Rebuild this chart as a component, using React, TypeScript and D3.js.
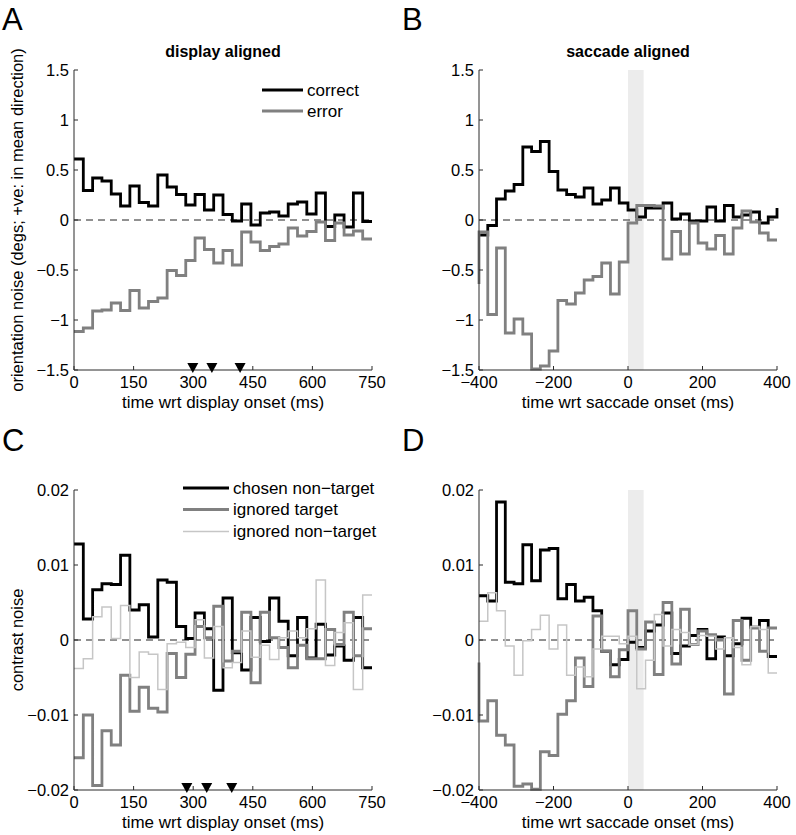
import React from 'react';
import * as d3 from 'd3';

// ---------- data ----------
const displayTicks = [0, 150, 300, 450, 600, 750];
const saccadeTicks = [-400, -200, 0, 200, 400];
const orientTicks = [-1.5, -1, -0.5, 0, 0.5, 1, 1.5];
const contrastTicks = [-0.02, -0.01, 0, 0.01, 0.02];

const markersA = [299, 347, 418];
const markersC = [284, 334, 397];

const correctDisplay = [0.61, 0.295, 0.42, 0.39, 0.26, 0.14, 0.34, 0.175, 0.14, 0.45, 0.33, 0.255, 0.15, 0.255, 0.1, 0.25, 0.055, -0.01, 0.16, -0.05, 0.07, 0.08, 0.04, 0.16, 0.18, 0.06, 0.27, -0.065, 0.05, -0.07, 0.27, -0.015];
const errorDisplay = [-1.115, -1.08, -0.91, -0.9, -0.83, -0.905, -0.705, -0.88, -0.815, -0.78, -0.505, -0.555, -0.405, -0.18, -0.295, -0.43, -0.305, -0.45, -0.12, -0.22, -0.305, -0.265, -0.24, -0.08, -0.16, -0.115, -0.02, -0.205, -0.03, -0.15, -0.11, -0.19];

const correctSaccade = [-0.15, -0.055, 0.21, 0.29, 0.355, 0.73, 0.685, 0.785, 0.485, 0.3, 0.255, 0.23, 0.32, 0.16, 0.2, 0.32, 0.17, 0.1, 0.03, 0.12, 0.12, 0.17, 0.01, 0.06, -0.01, -0.01, 0.13, -0.01, 0.145, 0.03, 0.05, 0.08, -0.03, 0.03];
const errorSaccade = [-0.12, -0.945, -0.28, -1.13, -0.99, -1.14, -1.49, -1.46, -1.31, -0.805, -0.84, -0.73, -0.6, -0.565, -0.43, -0.74, -0.42, -0.03, 0.145, 0.145, 0.14, -0.39, -0.115, -0.34, -0.03, -0.23, -0.29, -0.155, -0.34, -0.08, 0.09, -0.02, -0.13, -0.2];

const chosenDisplay = [0.0128, 0.0028, 0.0067, 0.0075, 0.0074, 0.0113, 0.004, 0.0047, 0.0004, 0.008, 0.0077, 0.0018, 0.0002, 0.0036, 0.0015, -0.0067, 0.0056, -0.0017, -0.004, 0.003, -0.0002, 0.0056, 0.0025, -0.0021, 0.003, -0.0024, 0.0021, -0.002, -0.0008, -0.0027, 0.003, -0.0037];
const ignTargetDisplay = [-0.0157, -0.01, -0.0194, -0.0121, -0.014, -0.0047, -0.0095, -0.0063, -0.0091, -0.0096, -0.0018, -0.005, -0.0019, 0.0018, 0.0003, 0.0045, -0.0028, -0.0015, 0.0037, -0.0057, 0.0037, 0.0003, -0.001, -0.0037, -0.0007, -0.0025, -0.0025, 0.0014, -0.0006, 0.0037, -0.0021, 0.0015];
const ignNonDisplay = [-0.0038, -0.0025, 0.0031, 0.0044, 0.0002, 0.0046, -0.005, -0.0016, -0.0019, -0.0066, -0.0005, -0.0003, -0.001, 0.0027, -0.0024, 0.0018, -0.0037, -0.003, 0.0012, -0.0023, -0.0007, -0.0026, 0.0003, 0.0012, 0.0003, 0.0015, 0.008, -0.0034, 0.001, 0.0023, -0.0066, 0.006];

const chosenSaccade = [0.0059, 0.0052, 0.0184, 0.0077, 0.0075, 0.0127, 0.0079, 0.012, 0.0122, 0.0055, 0.0074, 0.0052, 0.0057, 0.0039, -0.0015, -0.0033, -0.0026, -0.0003, -0.001, 0.0012, 0.002, 0.0036, -0.0018, -0.0008, 0.0006, 0.0014, -0.0025, 0.0004, -0.0021, -0.0005, 0.0029, 0.0017, 0.0026, -0.0022];
const ignTargetSaccade = [-0.0108, -0.0081, -0.0127, -0.014, -0.0195, -0.0192, -0.0199, -0.0149, -0.0154, -0.0099, -0.0081, -0.0024, -0.0062, 0.0032, -0.0015, -0.0049, -0.0013, 0.0039, -0.0012, 0.0024, -0.0046, 0.005, -0.0032, 0.0041, -0.0006, 0.0012, 0.0007, 0.0, -0.0072, 0.0026, -0.0027, 0.0016, -0.0015, 0.0016];
const ignNonSaccade = [0.0025, 0.0063, 0.0039, -0.0008, -0.0047, -0.0001, 0.0014, 0.0033, -0.0012, 0.002, -0.0047, -0.0036, -0.0049, -0.0012, 0.0005, 0.0005, -0.0005, 0.0005, -0.0065, -0.0027, 0.0034, -0.0008, 0.0014, 0.001, -0.0006, 0.0006, 0.0005, -0.0012, 0.0003, -0.001, -0.0033, 0.0018, 0.0014, -0.0044];

const saccadeBand = [0, 42];

// ---------- styles ----------
const FONT = 'Liberation Sans, Arial, Helvetica, sans-serif';
const BLACK = '#000000';
const GRAY = '#808080';
const LIGHT = '#c6c6c6';
const AX = '#2a2a2a';
const LW = 2.8;

type Series = { values: number[]; color: string; width: number; lead?: number; tail?: number };

const fmt = (d: number) => String(d).replace('-', '\u2212');

function Panel(props: {
  xr: [number, number];
  yr: [number, number];
  xDomain: [number, number];
  yDomain: [number, number];
  xTicks: number[];
  yTicks: number[];
  series: Series[];
  band?: number[];
  markers?: number[];
}) {
  const { xr, yr, xDomain, yDomain, xTicks, yTicks, series, band, markers } = props;
  const x = d3.scaleLinear().domain(xDomain).range(xr);
  const y = d3.scaleLinear().domain(yDomain).range(yr);
  const [xl, xh] = xr;
  const [yb, yt] = yr;
  return (
    <g>
      {band && (
        <rect x={x(band[0])} y={yt} width={x(band[1]) - x(band[0])} height={yb - yt} fill="#ececec" />
      )}
      <line x1={xl} x2={xh} y1={y(0)} y2={y(0)} stroke="#222" strokeWidth={1} strokeDasharray="7 5" />
      {series.map((s, i) => {
        const n = s.values.length;
        const edges = d3.range(n + 1).map((k) => xDomain[0] + (k * (xDomain[1] - xDomain[0])) / n);
        const pts: [number, number][] = [];
        if (s.lead !== undefined) pts.push([edges[0], s.lead]);
        s.values.forEach((v, k) => pts.push([edges[k], v]));
        pts.push([edges[n], s.values[n - 1]]);
        if (s.tail !== undefined) pts.push([edges[n], s.tail]);
        const line = d3
          .line<[number, number]>()
          .x((d) => x(d[0]))
          .y((d) => y(d[1]))
          .curve(d3.curveStepAfter);
        return (
          <path key={i} d={line(pts) || ''} fill="none" stroke={s.color} strokeWidth={s.width} strokeLinejoin="miter" />
        );
      })}
      {/* axes */}
      <line x1={xl} x2={xh} y1={yb} y2={yb} stroke={AX} strokeWidth={1} />
      <line x1={xl} x2={xl} y1={yb} y2={yt} stroke={AX} strokeWidth={1} />
      {xTicks.map((t) => (
        <g key={'x' + t}>
          <line x1={x(t)} x2={x(t)} y1={yb} y2={yb - 4} stroke={AX} strokeWidth={1} />
          <text x={x(t)} y={yb + 18} textAnchor="middle" fontSize={16.5} fontFamily={FONT} fill="#000">
            {fmt(t)}
          </text>
        </g>
      ))}
      {yTicks.map((t) => (
        <g key={'y' + t}>
          <line x1={xl} x2={xl + 4} y1={y(t)} y2={y(t)} stroke={AX} strokeWidth={1} />
          <text x={xl - 5} y={y(t)} dy="0.35em" textAnchor="end" fontSize={16.5} fontFamily={FONT} fill="#000">
            {fmt(t)}
          </text>
        </g>
      ))}
      {markers &&
        markers.map((m) => (
          <path
            key={'m' + m}
            d={`M${x(m) - 5.5},${yb - 7}L${x(m) + 5.5},${yb - 7}L${x(m)},${yb + 3}Z`}
            fill="#000"
          />
        ))}
    </g>
  );
}

function Legend({ x1, x2, ys, labels, colors, widths }: { x1: number; x2: number; ys: number[]; labels: string[]; colors: string[]; widths: number[] }) {
  return (
    <g>
      {labels.map((l, i) => (
        <g key={l}>
          <line x1={x1} x2={x2} y1={ys[i]} y2={ys[i]} stroke={colors[i]} strokeWidth={widths[i]} />
          <text x={x2 + 4} y={ys[i]} dy="0.35em" fontSize={17} fontFamily={FONT} fill="#000">
            {l}
          </text>
        </g>
      ))}
    </g>
  );
}

export default function App() {
  const AX_L = 74, AX_R = 372, BX_L = 479, BX_R = 777;
  const TOP1 = 70, BOT1 = 370, TOP2 = 490, BOT2 = 790;
  return (
    <svg width={796} height={835} style={{ position: 'absolute', left: 0, top: 0, background: '#fff' }}>
      <rect width={796} height={835} fill="#fff" />
      {/* panel letters */}
      <text x={2} y={30} fontSize={31} fontFamily={FONT}>A</text>
      <text x={402} y={30} fontSize={31} fontFamily={FONT}>B</text>
      <text x={2} y={451} fontSize={31} fontFamily={FONT}>C</text>
      <text x={402} y={451} fontSize={31} fontFamily={FONT}>D</text>

      <text x={(AX_L + AX_R) / 2} y={57} textAnchor="middle" fontSize={16} fontWeight="bold" fontFamily={FONT}>display aligned</text>
      <text x={(BX_L + BX_R) / 2} y={57} textAnchor="middle" fontSize={16} fontWeight="bold" fontFamily={FONT}>saccade aligned</text>

      <Panel
        xr={[AX_L, AX_R]} yr={[BOT1, TOP1]} xDomain={[0, 750]} yDomain={[-1.5, 1.5]}
        xTicks={displayTicks} yTicks={orientTicks} markers={markersA}
        series={[
          { values: correctDisplay, color: BLACK, width: LW },
          { values: errorDisplay, color: GRAY, width: LW },
        ]}
      />
      <Panel
        xr={[BX_L, BX_R]} yr={[BOT1, TOP1]} xDomain={[-400, 400]} yDomain={[-1.5, 1.5]}
        xTicks={saccadeTicks} yTicks={orientTicks} band={saccadeBand}
        series={[
          { values: correctSaccade, color: BLACK, width: LW, tail: 0.12 },
          { values: errorSaccade, color: GRAY, width: LW, lead: -0.64 },
        ]}
      />
      <Panel
        xr={[AX_L, AX_R]} yr={[BOT2, TOP2]} xDomain={[0, 750]} yDomain={[-0.02, 0.02]}
        xTicks={displayTicks} yTicks={contrastTicks} markers={markersC}
        series={[
          { values: chosenDisplay, color: BLACK, width: LW },
          { values: ignTargetDisplay, color: GRAY, width: LW },
          { values: ignNonDisplay, color: LIGHT, width: 1.5 },
        ]}
      />
      <Panel
        xr={[BX_L, BX_R]} yr={[BOT2, TOP2]} xDomain={[-400, 400]} yDomain={[-0.02, 0.02]}
        xTicks={saccadeTicks} yTicks={contrastTicks} band={saccadeBand}
        series={[
          { values: chosenSaccade, color: BLACK, width: LW },
          { values: ignTargetSaccade, color: GRAY, width: LW, lead: -0.003 },
          { values: ignNonSaccade, color: LIGHT, width: 1.5 },
        ]}
      />

      <Legend x1={262} x2={303} ys={[90, 111]} labels={['correct', 'error']} colors={[BLACK, GRAY]} widths={[LW, LW]} />
      <Legend x1={183} x2={229} ys={[488, 509.5, 531.5]} labels={['chosen non\u2212target', 'ignored target', 'ignored non\u2212target']} colors={[BLACK, GRAY, LIGHT]} widths={[LW, LW, 1.5]} />

      {/* axis labels */}
      <text x={(AX_L + AX_R) / 2} y={408} textAnchor="middle" fontSize={17} fontFamily={FONT}>time wrt display onset (ms)</text>
      <text x={(BX_L + BX_R) / 2} y={408} textAnchor="middle" fontSize={17} fontFamily={FONT}>time wrt saccade onset (ms)</text>
      <text x={(AX_L + AX_R) / 2} y={828} textAnchor="middle" fontSize={17} fontFamily={FONT}>time wrt display onset (ms)</text>
      <text x={(BX_L + BX_R) / 2} y={828} textAnchor="middle" fontSize={17} fontFamily={FONT}>time wrt saccade onset (ms)</text>
      <text transform={`translate(23,${(TOP1 + BOT1) / 2}) rotate(-90)`} textAnchor="middle" fontSize={16.5} fontFamily={FONT}>orientation noise (degs; +ve: in mean direction)</text>
      <text transform={`translate(23,${(TOP2 + BOT2) / 2}) rotate(-90)`} textAnchor="middle" fontSize={16.5} fontFamily={FONT}>contrast noise</text>
    </svg>
  );
}
